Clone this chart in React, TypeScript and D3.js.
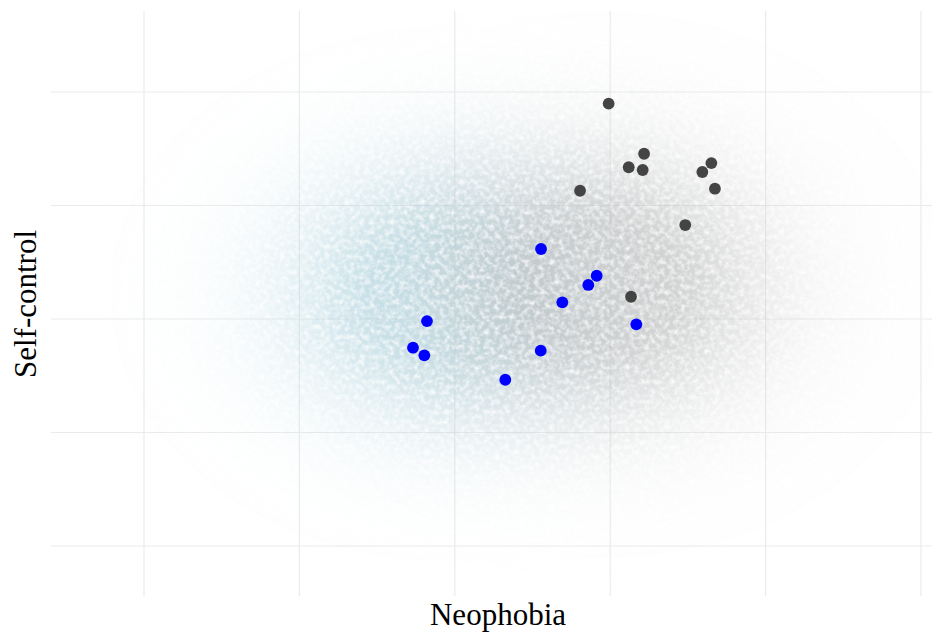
import React from "react";
import * as d3 from "d3";

// ---- data ----
const xTicks = [1, 2, 3, 4, 5, 6];
const yTicks = [1, 2, 3, 4, 5];

// highlighted group A (blue)
const blueX = [3.555, 3.913, 3.859, 3.692, 2.821, 4.168, 2.731, 2.804, 3.553, 3.325];
const blueY = [3.617, 3.381, 3.300, 3.147, 2.982, 2.953, 2.747, 2.680, 2.721, 2.465];

// highlighted group B (dark grey)
const darkX = [3.990, 4.218, 4.119, 4.209, 4.651, 4.593, 4.674, 3.806, 4.483, 4.134];
const darkY = [4.897, 4.456, 4.337, 4.313, 4.374, 4.295, 4.148, 4.130, 3.828, 3.196];

// background population clouds (summarised as density: centre and spread)
const cloudNames = ["lightblue", "grey"];
const cloudMeanX = [2.95, 3.95];
const cloudMeanY = [3.22, 3.3];
const cloudSdX = [0.68, 0.7];
const cloudSdY = [0.74, 0.76];
const cloudColours = ["#b0d6e2", "#bdbdbd"];
const cloudPeak = [0.7, 0.66];

const W = 932;
const H = 634;
const panel = { left: 51, right: 932, top: 11, bottom: 597 };

export default function App() {
  const x = d3
    .scaleLinear()
    .domain([1 - 93 / 155.4, 6 + 10 / 155.4])
    .range([panel.left, panel.right - 1]);
  const y = d3
    .scaleLinear()
    .domain([0.5507, 5.7137])
    .range([panel.bottom, panel.top]);

  const kx = x(1) - x(0);
  const ky = y(0) - y(1);

  const stops = d3.range(0, 1.0001, 0.05);
  const reach = 3.4; // ellipse radius in SDs

  return (
    <div style={{ position: "fixed", left: 0, top: 0 }}>
      <svg width={W} height={H} style={{ display: "block", background: "#fff" }}>
        <defs>
          {cloudNames.map((n, i) => (
            <radialGradient key={n} id={`cloud-${n}`} cx="50%" cy="50%" r="50%">
              {stops.map((s) => {
                const d = s * reach;
                const a = Math.min(1, 1.3 * Math.exp(-(d ** 2) / 2));
                return (
                  <stop
                    key={s}
                    offset={`${s * 100}%`}
                    stopColor={cloudColours[i]}
                    stopOpacity={cloudPeak[i] * a}
                  />
                );
              })}
            </radialGradient>
          ))}
          <filter
            id="speckle"
            filterUnits="userSpaceOnUse"
            x={panel.left}
            y={panel.top}
            width={panel.right - panel.left}
            height={panel.bottom - panel.top}
          >
            <feTurbulence type="fractalNoise" baseFrequency="0.2" numOctaves="2" seed="7" result="noise" />
            <feColorMatrix
              in="noise"
              type="matrix"
              values="0 0 0 0 0  0 0 0 0 0  0 0 0 0 0  1.7 0 0 0 -0.05"
              result="mask"
            />
            <feComposite in="SourceGraphic" in2="mask" operator="in" />
          </filter>
        </defs>

        {/* grid */}
        <g stroke="#ebebeb" strokeWidth={1.2}>
          {yTicks.map((t) => (
            <line key={`h${t}`} x1={panel.left} x2={panel.right} y1={y(t)} y2={y(t)} />
          ))}
          {xTicks.map((t) => (
            <line key={`v${t}`} x1={x(t)} x2={x(t)} y1={panel.top} y2={panel.bottom - 1} />
          ))}
        </g>

        {/* population clouds */}
        <g filter="url(#speckle)">
          {cloudNames.map((n, i) => (
            <ellipse
              key={n}
              cx={x(cloudMeanX[i])}
              cy={y(cloudMeanY[i])}
              rx={cloudSdX[i] * reach * kx}
              ry={cloudSdY[i] * reach * ky}
              fill={`url(#cloud-${n})`}
            />
          ))}
        </g>

        {/* highlighted points */}
        <g fill="#444444">
          {darkX.map((v, i) => (
            <circle key={`d${i}`} cx={x(v)} cy={y(darkY[i])} r={5.9} />
          ))}
        </g>
        <g fill="#0000ff">
          {blueX.map((v, i) => (
            <circle key={`b${i}`} cx={x(v)} cy={y(blueY[i])} r={5.9} />
          ))}
        </g>

        {/* axis titles */}
        <text
          x={498}
          y={625}
          textAnchor="middle"
          fontFamily="'Liberation Serif', 'Times New Roman', serif"
          fontSize={31}
          fill="#000"
        >
          Neophobia
        </text>
        <text
          transform={`translate(36, ${(panel.top + panel.bottom) / 2}) rotate(-90)`}
          textAnchor="middle"
          fontFamily="'Liberation Serif', 'Times New Roman', serif"
          fontSize={31}
          fill="#000"
        >
          Self-control
        </text>
      </svg>
    </div>
  );
}
